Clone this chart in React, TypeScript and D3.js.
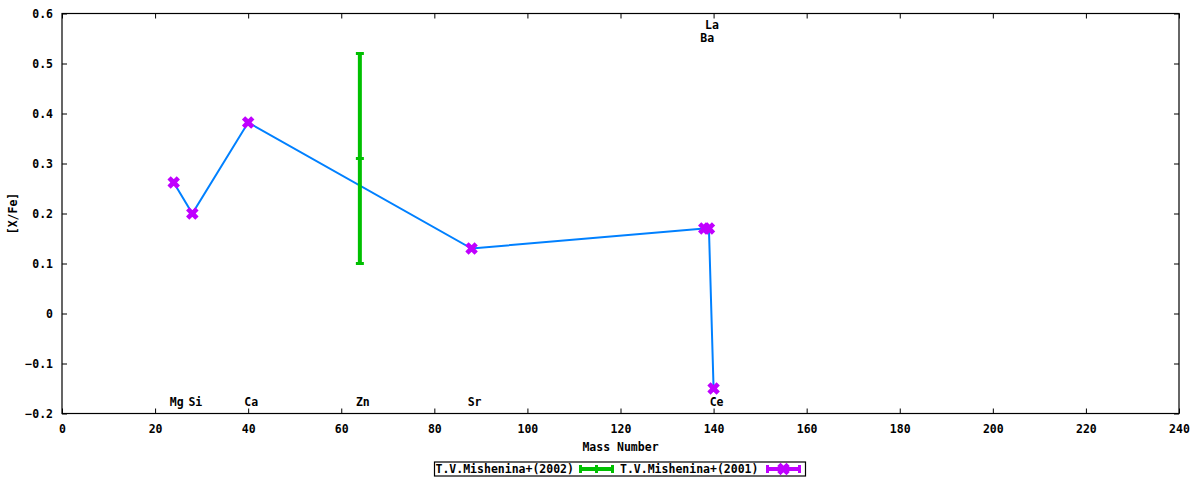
import React, { useRef, useEffect } from "react";
import * as d3 from "d3";

// [X/Fe] vs mass number, T.V.Mishenina+ (2001) and (2002)
const elements2001 = ["Mg", "Si", "Ca", "Sr", "Ba", "La", "Ce"];
const mass2001 = [24, 28, 40, 88, 138, 139, 140];
const xfe2001 = [0.262, 0.2, 0.382, 0.13, 0.17, 0.17, -0.15];

const elements2002 = ["Zn"];
const mass2002 = [64];
const xfe2002 = [0.31];
const err2002 = [0.21];

// element name annotations (mass, level in [X/Fe] units)
const labelNames = ["Mg", "Si", "Ca", "Zn", "Sr", "Ba", "La", "Ce"];
const labelMass = [24, 28, 40, 64, 88, 138, 139, 140];
const labelLevel = [-0.177, -0.177, -0.177, -0.177, -0.177, 0.551, 0.577, -0.177];

const xTicks = [0, 20, 40, 60, 80, 100, 120, 140, 160, 180, 200, 220, 240];
const yTicks = [-0.2, -0.1, 0, 0.1, 0.2, 0.3, 0.4, 0.5, 0.6];

const legendLabels = ["T.V.Mishenina+(2002)", "T.V.Mishenina+(2001)"];

const GREEN = "#00c000";
const MAGENTA = "#c000ff";
const BLUE = "#0080ff";
const FONT = "'DejaVu Sans Mono', monospace";

export default function App() {
    const svgRef = useRef<SVGSVGElement>(null);

    useEffect(() => {
        if (!svgRef.current) return;
        const svg = d3.select(svgRef.current);
        svg.selectAll("*").remove();

        const W = 1200;
        const H = 480;
        const margin = { top: 13.5, right: 21, bottom: 66.5, left: 62 };
        const width = W - margin.left - margin.right;
        const height = H - margin.top - margin.bottom;

        svg.attr("width", W).attr("height", H)
            .attr("font-family", FONT)
            .attr("font-weight", "bold");

        svg.append("rect").attr("width", W).attr("height", H).attr("fill", "#fff");

        const g = svg.append("g")
            .attr("transform", `translate(${margin.left},${margin.top})`);

        const x = d3.scaleLinear().domain([0, 240]).range([0, width]);
        const y = d3.scaleLinear().domain([-0.2, 0.6]).range([height, 0]);

        const styleAxis = (sel: any, labels: boolean) => {
            sel.select(".domain").remove();
            sel.selectAll(".tick line").attr("stroke", "#000").attr("stroke-width", 1);
            sel.selectAll(".tick text")
                .attr("fill", "#000")
                .attr("font-size", "11.5px")
                .attr("font-family", FONT)
                .attr("font-weight", "bold");
            if (!labels) sel.selectAll(".tick text").remove();
        };

        // Axes (inward ticks, mirrored)
        g.append("g")
            .attr("transform", `translate(0,${height})`)
            .call(d3.axisBottom(x).tickValues(xTicks).tickSize(-5).tickPadding(11).tickFormat(d3.format("d")))
            .call(s => styleAxis(s, true));
        g.append("g")
            .call(d3.axisTop(x).tickValues(xTicks).tickSize(-5))
            .call(s => styleAxis(s, false));
        g.append("g")
            .call(d3.axisLeft(y).tickValues(yTicks).tickSize(-5).tickPadding(9).tickFormat(d => d3.format(".1f")(d as number).replace("-0.0", "0").replace(/^0\.0$/, "0")))
            .call(s => styleAxis(s, true));
        g.append("g")
            .attr("transform", `translate(${width},0)`)
            .call(d3.axisRight(y).tickValues(yTicks).tickSize(-5))
            .call(s => styleAxis(s, false));

        // Frame
        g.append("rect")
            .attr("width", width)
            .attr("height", height)
            .attr("fill", "none")
            .attr("stroke", "#000")
            .attr("stroke-width", 1.2);

        // Axis titles
        svg.append("text")
            .attr("x", margin.left + width / 2)
            .attr("y", 451)
            .attr("text-anchor", "middle")
            .attr("font-size", "11.5px")
            .text("Mass Number");
        svg.append("text")
            .attr("transform", `translate(16.5,${margin.top + height / 2}) rotate(-90)`)
            .attr("text-anchor", "middle")
            .attr("font-size", "11.5px")
            .text("[X/Fe]");

        // Element labels
        labelNames.forEach((name, i) => {
            g.append("text")
                .attr("x", x(labelMass[i]) + 3)
                .attr("y", y(labelLevel[i]))
                .attr("dy", "0.36em")
                .attr("text-anchor", "middle")
                .attr("font-size", "11.5px")
                .text(name);
        });

        // Connecting line (2001)
        const pts2001 = mass2001.map((m, i) => ({ m, v: xfe2001[i], el: elements2001[i] }));
        const line = d3.line<{ m: number; v: number }>()
            .x(d => x(d.m))
            .y(d => y(d.v));
        g.append("path")
            .datum(pts2001)
            .attr("fill", "none")
            .attr("stroke", BLUE)
            .attr("stroke-width", 2)
            .attr("d", line);

        // 2002 error bars
        const capW = 4;
        mass2002.forEach((m, i) => {
            const cx = x(m);
            const lo = y(xfe2002[i] - err2002[i]);
            const hi = y(xfe2002[i] + err2002[i]);
            g.append("line")
                .attr("x1", cx).attr("x2", cx)
                .attr("y1", lo).attr("y2", hi)
                .attr("stroke", GREEN).attr("stroke-width", 4);
            [lo, hi, y(xfe2002[i])].forEach(yy => {
                g.append("line")
                    .attr("x1", cx - capW).attr("x2", cx + capW)
                    .attr("y1", yy).attr("y2", yy)
                    .attr("stroke", GREEN).attr("stroke-width", 3);
            });
        });

        // 2001 markers
        const marker = (sel: any, cx: number, cy: number) => {
            const s = 3;
            sel.append("path")
                .attr("d", `M${cx - s},${cy - s}L${cx + s},${cy + s}M${cx - s},${cy + s}L${cx + s},${cy - s}`)
                .attr("stroke", MAGENTA)
                .attr("stroke-width", 4.6)
                .attr("stroke-linecap", "square")
                .attr("fill", "none");
            sel.append("rect")
                .attr("x", cx - 3).attr("y", cy - 3)
                .attr("width", 6).attr("height", 6)
                .attr("fill", MAGENTA);
        };
        pts2001.forEach(d => marker(g, x(d.m), y(d.v)));

        // Legend
        const leg = svg.append("g");
        leg.append("rect")
            .attr("x", 434.5).attr("y", 462)
            .attr("width", 371).attr("height", 14)
            .attr("fill", "#fff")
            .attr("stroke", "#000")
            .attr("stroke-width", 1.2);
        const legY = 469;
        leg.append("text").attr("x", 435.5).attr("y", legY).attr("dy", "0.36em")
            .attr("font-size", "11.5px").text(legendLabels[0]);
        leg.append("text").attr("x", 620).attr("y", legY).attr("dy", "0.36em")
            .attr("font-size", "11.5px").text(legendLabels[1]);

        const sample = (x0: number, x1: number, color: string, withMarker: boolean) => {
            leg.append("line").attr("x1", x0).attr("x2", x1).attr("y1", legY).attr("y2", legY)
                .attr("stroke", color).attr("stroke-width", 4);
            [x0 + 1.5, x1 - 1.5].forEach(xx => {
                leg.append("line").attr("x1", xx).attr("x2", xx).attr("y1", legY - 4).attr("y2", legY + 4)
                    .attr("stroke", color).attr("stroke-width", 3);
            });
            const mx = (x0 + x1) / 2;
            if (withMarker) marker(leg, mx, legY);
            else leg.append("line").attr("x1", mx).attr("x2", mx).attr("y1", legY - 4).attr("y2", legY + 4)
                .attr("stroke", color).attr("stroke-width", 3);
        };
        sample(579, 614, GREEN, false);
        sample(766, 801, MAGENTA, true);
    }, []);

    return (
        <div style={{ position: "absolute", left: 0, top: 0 }}>
            <svg ref={svgRef} style={{ display: "block" }} />
        </div>
    );
}
